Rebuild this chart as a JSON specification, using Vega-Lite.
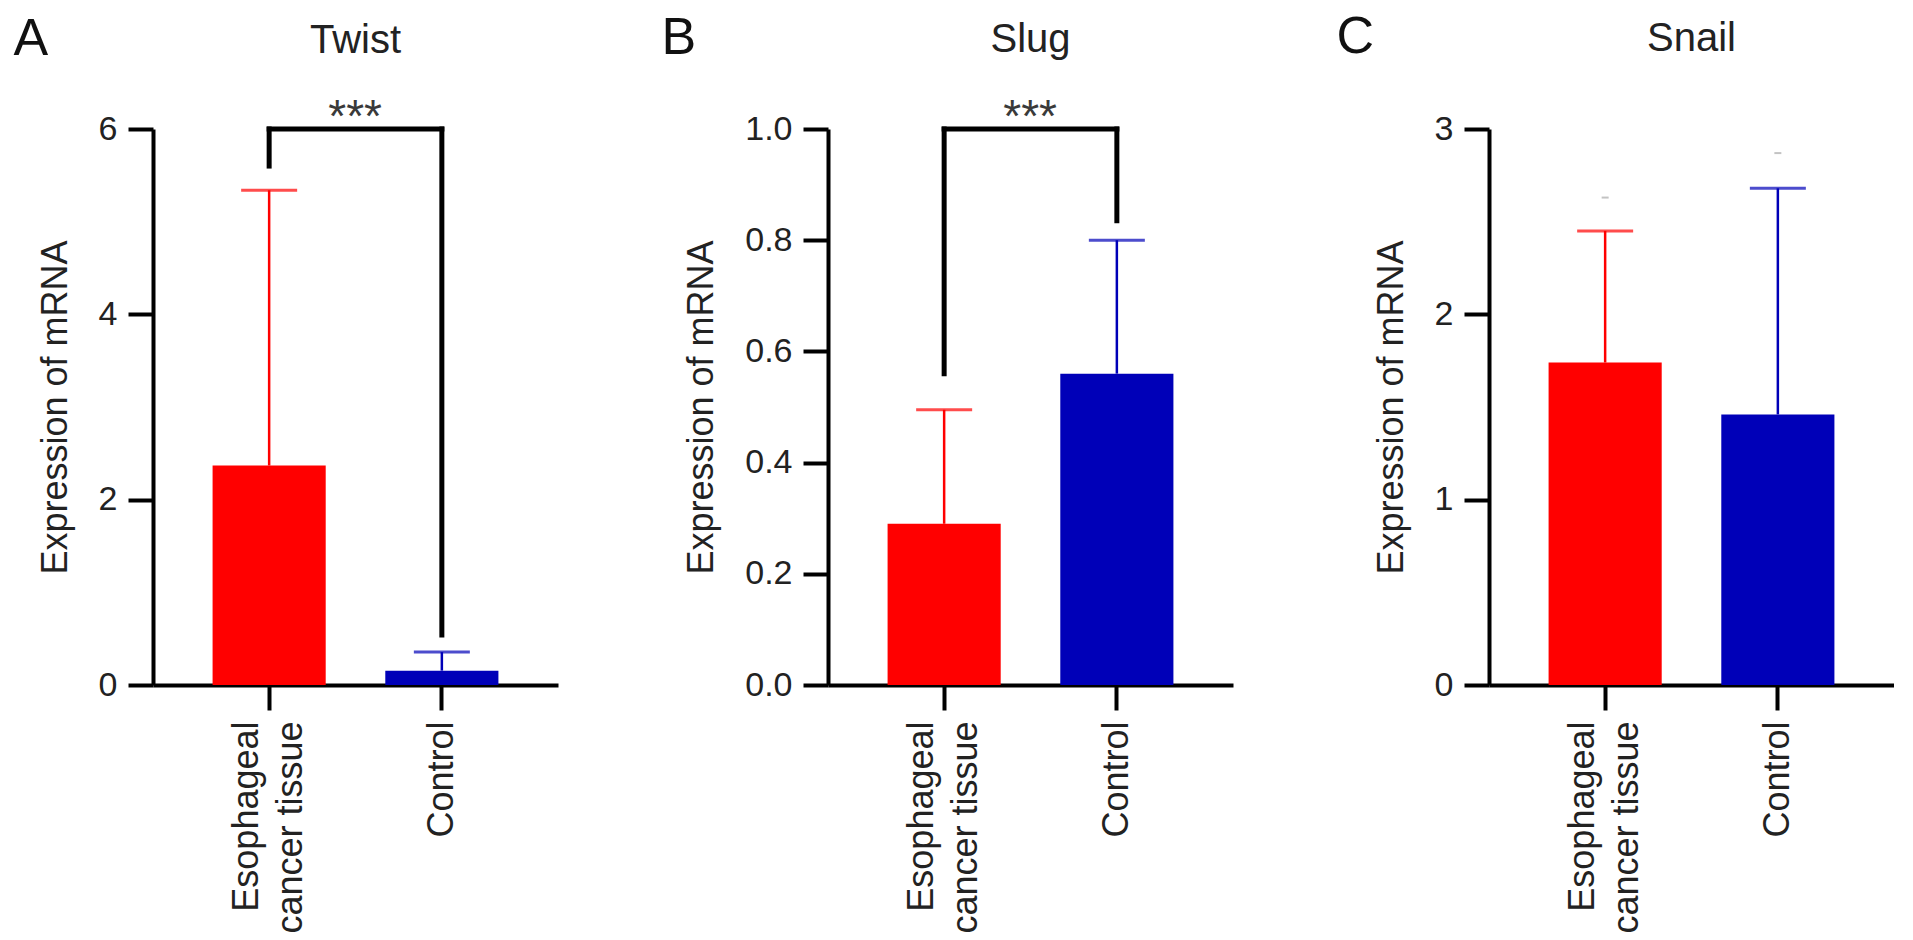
{
  "$schema": "https://vega.github.io/schema/vega-lite/v6.json",
  "background": "white",
  "padding": {"left": 13, "top": 10, "right": 0, "bottom": 0},
  "spacing": 103,
  "datasets": {
    "twist": [
      {"group": "Esophageal cancer tissue", "mean": 2.37, "upper": 5.34},
      {"group": "Control", "mean": 0.155, "upper": 0.355}
    ],
    "twist_legs": [
      {"group": "Esophageal cancer tissue", "low": 5.6, "high": 6},
      {"group": "Control", "low": 0.54, "high": 6}
    ],
    "twist_sig": [
      {"from": "Esophageal cancer tissue", "to": "Control", "level": 6, "stars": "***"}
    ],
    "slug": [
      {"group": "Esophageal cancer tissue", "mean": 0.29, "upper": 0.495},
      {"group": "Control", "mean": 0.56, "upper": 0.8}
    ],
    "slug_legs": [
      {"group": "Esophageal cancer tissue", "low": 0.56, "high": 1.0},
      {"group": "Control", "low": 0.835, "high": 1.0}
    ],
    "slug_sig": [
      {"from": "Esophageal cancer tissue", "to": "Control", "level": 1.0, "stars": "***"}
    ],
    "snail": [
      {"group": "Esophageal cancer tissue", "mean": 1.74, "upper": 2.45, "speck": 2.63},
      {"group": "Control", "mean": 1.46, "upper": 2.68, "speck": 2.87}
    ]
  },
  "hconcat": [
    {
      "width": 405,
      "height": 556,
      "title": {"text": "Twist", "offset": -49},
      "resolve": {"axis": {"x": "independent"}},
      "layer": [
        {
          "data": {"name": "twist"},
          "mark": "bar",
          "encoding": {
            "x": {"field": "group", "type": "nominal",
                  "scale": {"domain": ["Esophageal cancer tissue", "Control"], "paddingInner": 0.345, "paddingOuter": 0.345},
                  "axis": {"orient": "bottom", "title": null, "labelAngle": -90, "labelAlign": "right", "labelBaseline": "middle",
                           "labelLineHeight": 44, "labelLimit": 0, "labelFontSize": 36,
                           "labelOffset": {"condition": {"test": "datum.value == 'Esophageal cancer tissue'", "value": -22}, "value": 0},
                           "labelExpr": "datum.value == 'Esophageal cancer tissue' ? ['Esophageal', 'cancer tissue'] : datum.value"}},
            "y": {"field": "mean", "type": "quantitative", "scale": {"domain": [0, 6], "nice": false},
                  "axis": {"title": "Expression of mRNA", "values": [0, 2, 4, 6], "format": ".0f"}},
            "color": {"field": "group", "type": "nominal", "scale": {"domain": ["Esophageal cancer tissue", "Control"], "range": ["#ff0000", "#0000b8"]}, "legend": null}
          }
        },
        {
          "data": {"name": "twist"},
          "mark": {"type": "rule", "strokeWidth": 2.5},
          "encoding": {
            "x": {"field": "group", "type": "nominal",
                  "axis": {"orient": "top", "domain": false, "ticks": false, "labels": false, "title": "A",
                           "titleX": -140, "titleY": -75, "titleAlign": "left", "titleBaseline": "alphabetic", "titleFontSize": 52, "titleColor": "#111"}},
            "y": {"field": "mean", "type": "quantitative"},
            "y2": {"field": "upper"},
            "color": {"field": "group", "type": "nominal", "legend": null}
          }
        },
        {
          "data": {"name": "twist"},
          "mark": {"type": "tick", "size": 56, "thickness": 3},
          "encoding": {
            "x": {"field": "group", "type": "nominal", "axis": null},
            "y": {"field": "upper", "type": "quantitative"},
            "color": {"field": "group", "type": "nominal", "legend": null}
          }
        },
        {
          "data": {"name": "twist_legs"},
          "mark": {"type": "rule", "strokeWidth": 5, "strokeCap": "square", "color": "black"},
          "encoding": {
            "x": {"field": "group", "type": "nominal", "axis": null},
            "y": {"field": "low", "type": "quantitative"},
            "y2": {"field": "high"}
          }
        },
        {
          "data": {"name": "twist_sig"},
          "mark": {"type": "rule", "strokeWidth": 5, "strokeCap": "square", "color": "black"},
          "encoding": {
            "x": {"field": "from", "type": "nominal", "axis": null},
            "x2": {"field": "to"},
            "y": {"field": "level", "type": "quantitative"}
          }
        },
        {
          "data": {"name": "twist_sig"},
          "mark": {"type": "text", "dx": 86, "dy": 3, "fontSize": 46, "color": "#3a3a3a", "baseline": "alphabetic", "align": "center"},
          "encoding": {
            "x": {"field": "from", "type": "nominal", "axis": null},
            "y": {"field": "level", "type": "quantitative"},
            "text": {"field": "stars"}
          }
        }
      ]
    },
    {
      "width": 405,
      "height": 556,
      "title": {"text": "Slug", "offset": -49},
      "resolve": {"axis": {"x": "independent"}},
      "layer": [
        {
          "data": {"name": "slug"},
          "mark": "bar",
          "encoding": {
            "x": {"field": "group", "type": "nominal",
                  "scale": {"domain": ["Esophageal cancer tissue", "Control"], "paddingInner": 0.345, "paddingOuter": 0.345},
                  "axis": {"orient": "bottom", "title": null, "labelAngle": -90, "labelAlign": "right", "labelBaseline": "middle",
                           "labelLineHeight": 44, "labelLimit": 0, "labelFontSize": 36,
                           "labelOffset": {"condition": {"test": "datum.value == 'Esophageal cancer tissue'", "value": -22}, "value": 0},
                           "labelExpr": "datum.value == 'Esophageal cancer tissue' ? ['Esophageal', 'cancer tissue'] : datum.value"}},
            "y": {"field": "mean", "type": "quantitative", "scale": {"domain": [0, 1], "nice": false},
                  "axis": {"title": "Expression of mRNA", "values": [0, 0.2, 0.4, 0.6, 0.8, 1.0], "format": ".1f"}},
            "color": {"field": "group", "type": "nominal", "scale": {"domain": ["Esophageal cancer tissue", "Control"], "range": ["#ff0000", "#0000b8"]}, "legend": null}
          }
        },
        {
          "data": {"name": "slug"},
          "mark": {"type": "rule", "strokeWidth": 2.5},
          "encoding": {
            "x": {"field": "group", "type": "nominal",
                  "axis": {"orient": "top", "domain": false, "ticks": false, "labels": false, "title": "B",
                           "titleX": -167, "titleY": -76, "titleAlign": "left", "titleBaseline": "alphabetic", "titleFontSize": 52, "titleColor": "#111"}},
            "y": {"field": "mean", "type": "quantitative"},
            "y2": {"field": "upper"},
            "color": {"field": "group", "type": "nominal", "legend": null}
          }
        },
        {
          "data": {"name": "slug"},
          "mark": {"type": "tick", "size": 56, "thickness": 3},
          "encoding": {
            "x": {"field": "group", "type": "nominal", "axis": null},
            "y": {"field": "upper", "type": "quantitative"},
            "color": {"field": "group", "type": "nominal", "legend": null}
          }
        },
        {
          "data": {"name": "slug_legs"},
          "mark": {"type": "rule", "strokeWidth": 5, "strokeCap": "square", "color": "black"},
          "encoding": {
            "x": {"field": "group", "type": "nominal", "axis": null},
            "y": {"field": "low", "type": "quantitative"},
            "y2": {"field": "high"}
          }
        },
        {
          "data": {"name": "slug_sig"},
          "mark": {"type": "rule", "strokeWidth": 5, "strokeCap": "square", "color": "black"},
          "encoding": {
            "x": {"field": "from", "type": "nominal", "axis": null},
            "x2": {"field": "to"},
            "y": {"field": "level", "type": "quantitative"}
          }
        },
        {
          "data": {"name": "slug_sig"},
          "mark": {"type": "text", "dx": 86, "dy": 3, "fontSize": 46, "color": "#3a3a3a", "baseline": "alphabetic", "align": "center"},
          "encoding": {
            "x": {"field": "from", "type": "nominal", "axis": null},
            "y": {"field": "level", "type": "quantitative"},
            "text": {"field": "stars"}
          }
        }
      ]
    },
    {
      "width": 405,
      "height": 556,
      "title": {"text": "Snail", "offset": -49},
      "resolve": {"axis": {"x": "independent"}},
      "layer": [
        {
          "data": {"name": "snail"},
          "mark": "bar",
          "encoding": {
            "x": {"field": "group", "type": "nominal",
                  "scale": {"domain": ["Esophageal cancer tissue", "Control"], "paddingInner": 0.345, "paddingOuter": 0.345},
                  "axis": {"orient": "bottom", "title": null, "labelAngle": -90, "labelAlign": "right", "labelBaseline": "middle",
                           "labelLineHeight": 44, "labelLimit": 0, "labelFontSize": 36,
                           "labelOffset": {"condition": {"test": "datum.value == 'Esophageal cancer tissue'", "value": -22}, "value": 0},
                           "labelExpr": "datum.value == 'Esophageal cancer tissue' ? ['Esophageal', 'cancer tissue'] : datum.value"}},
            "y": {"field": "mean", "type": "quantitative", "scale": {"domain": [0, 3], "nice": false},
                  "axis": {"title": "Expression of mRNA", "values": [0, 1, 2, 3], "format": ".0f"}},
            "color": {"field": "group", "type": "nominal", "scale": {"domain": ["Esophageal cancer tissue", "Control"], "range": ["#ff0000", "#0000b8"]}, "legend": null}
          }
        },
        {
          "data": {"name": "snail"},
          "mark": {"type": "rule", "strokeWidth": 2.5},
          "encoding": {
            "x": {"field": "group", "type": "nominal",
                  "axis": {"orient": "top", "domain": false, "ticks": false, "labels": false, "title": "C",
                           "titleX": -153, "titleY": -77, "titleAlign": "left", "titleBaseline": "alphabetic", "titleFontSize": 52, "titleColor": "#111"}},
            "y": {"field": "mean", "type": "quantitative"},
            "y2": {"field": "upper"},
            "color": {"field": "group", "type": "nominal", "legend": null}
          }
        },
        {
          "data": {"name": "snail"},
          "mark": {"type": "tick", "size": 56, "thickness": 3},
          "encoding": {
            "x": {"field": "group", "type": "nominal", "axis": null},
            "y": {"field": "upper", "type": "quantitative"},
            "color": {"field": "group", "type": "nominal", "legend": null}
          }
        },
        {
          "data": {"name": "snail"},
          "mark": {"type": "tick", "size": 7, "thickness": 2, "color": "#aaaaaa"},
          "encoding": {
            "x": {"field": "group", "type": "nominal", "axis": null},
            "y": {"field": "speck", "type": "quantitative"}
          }
        }
      ]
    }
  ],
  "config": {
    "font": "Liberation Sans",
    "view": {"stroke": null},
    "title": {"fontSize": 40, "fontWeight": "normal", "color": "#222", "anchor": "middle", "frame": "group", "baseline": "alphabetic"},
    "axis": {
      "grid": false,
      "domainColor": "black",
      "domainWidth": 4,
      "tickColor": "black",
      "tickWidth": 4,
      "tickSize": 25,
      "labelFontSize": 34,
      "labelColor": "#222",
      "labelPadding": 11,
      "titleFontSize": 36,
      "titleFontWeight": "normal",
      "titleColor": "#222",
      "titlePadding": 24
    }
  }
}
